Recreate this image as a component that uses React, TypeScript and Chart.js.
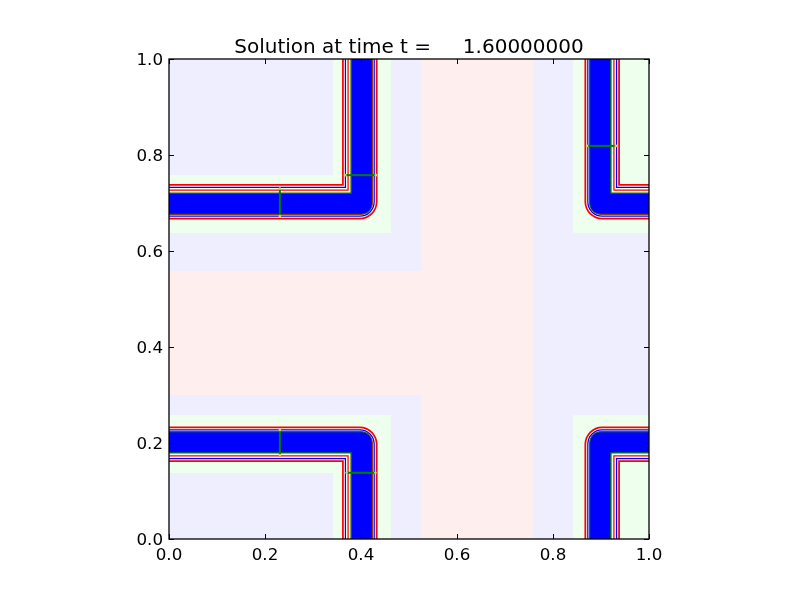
import { useEffect, useRef } from "react";
import { Chart, registerables } from "chart.js";

Chart.register(...registerables);

// ---- text ----
const titleLabel = "Solution at time t =";
const timeLabel = "    1.60000000";
const xTicks = [0, 0.2, 0.4, 0.6, 0.8, 1.0];
const yTicks = [0, 0.2, 0.4, 0.6, 0.8, 1.0];

// ---- AMR patches (level 1, 2, 3) ----
const patchLevel = [1, 2, 2, 3, 3, 3, 3, 3, 3];
const patchX0 = [0, 0.525, 0, 0, 0.342, 0.842, 0, 0.342, 0.842];
const patchX1 = [1, 0.758, 0.525, 0.4625, 0.4625, 1, 0.4625, 0.4625, 1];
const patchY0 = [0, 0, 0.3, 0.6375, 0.6375, 0.6375, 0.1375, 0, 0];
const patchY1 = [1, 1, 0.558, 0.758, 1, 1, 0.258, 0.258, 0.258];

// ---- square front in the periodic domain (corner path, closed with overlap) ----
const frontX = [-0.1, 0.4, 0.4, -0.1, -0.1, 0.4];
const frontY = [0.7, 0.7, 1.2, 1.2, 0.7, 0.7];
const periodShiftX = [0, 0, 1, 1];
const periodShiftY = [0, -1, 0, -1];

// ---- short green grid-edge marks across the front ----
const markX0 = [0.231, 0.367, 0.871, 0.231, 0.37];
const markX1 = [0.231, 0.431, 0.931, 0.231, 0.43];
const markY0 = [0.673, 0.758, 0.819, 0.175, 0.138];
const markY1 = [0.73, 0.758, 0.819, 0.227, 0.138];

// ---- styles ----
const levelColors: Record<number, string> = { 1: "#eeeeff", 2: "#ffeeee", 3: "#eeffee" };
const gapColor = "#f6fff6";
// stacked strokes: width in px, shift in px (negative = toward inside of the square)
const contourStyles = [
  { color: "#ff0000", width: 35.5, shift: -1.2 },
  { color: gapColor, width: 32, shift: -1.2 },
  { color: "#0000ff", width: 30, shift: -1.2 },
  { color: gapColor, width: 27.5, shift: -1.2 },
  { color: "#ff0000", width: 25.5, shift: -0.8 },
  { color: gapColor, width: 23, shift: -0.8 },
  { color: "#008000", width: 22, shift: 0.4 },
  { color: "#0000ff", width: 20, shift: 0.8 },
];
const PX_PER_UNIT = 480;

const FONT = "'DejaVu Sans', 'Liberation Sans', sans-serif";

export default function App() {
  const ref = useRef<HTMLCanvasElement>(null);

  useEffect(() => {
    const canvas = ref.current;
    if (!canvas) return;

    const cx = (Math.min(...frontX) + Math.max(...frontX)) / 2;
    const cy = (Math.min(...frontY) + Math.max(...frontY)) / 2;

    const drawOrder: any[] = [];
    contourStyles.forEach((st) => {
      const e = st.shift / PX_PER_UNIT;
      periodShiftX.forEach((sx, k) => {
        const sy = periodShiftY[k];
        const pts = frontX.map((x, i) => {
          const y = frontY[i];
          return {
            x: x + (x < cx ? -e : e) + sx,
            y: y + (y < cy ? -e : e) + sy,
          };
        });
        drawOrder.push({
          data: pts,
          showLine: true,
          borderColor: st.color,
          borderWidth: st.width,
          borderJoinStyle: "round",
          borderCapStyle: "butt",
          pointRadius: 0,
          tension: 0,
          fill: false,
          clip: 0,
        });
      });
    });
    markX0.forEach((x0, i) => {
      drawOrder.push({
        data: [
          { x: x0, y: markY0[i] },
          { x: markX1[i], y: markY1[i] },
        ],
        showLine: true,
        borderColor: "#008000",
        borderWidth: 2,
        pointRadius: 1.3,
        pointBorderWidth: 0,
        pointBackgroundColor: "#d8d850",
        tension: 0,
        fill: false,
        clip: 0,
      });
    });
    // Chart.js draws the first dataset on top, so reverse
    const datasets = drawOrder.slice().reverse();

    const patchPlugin = {
      id: "patches",
      beforeDatasetsDraw(chart: any) {
        const { ctx, scales } = chart;
        const xs = scales.x;
        const ys = scales.y;
        ctx.save();
        patchLevel.forEach((lvl, i) => {
          const l = xs.getPixelForValue(patchX0[i]);
          const r = xs.getPixelForValue(patchX1[i]);
          const t = ys.getPixelForValue(patchY1[i]);
          const b = ys.getPixelForValue(patchY0[i]);
          ctx.fillStyle = levelColors[lvl];
          ctx.fillRect(l, t, r - l, b - t);
        });
        ctx.restore();
      },
    };

    const framePlugin = {
      id: "frame",
      afterDraw(chart: any) {
        const { ctx, scales } = chart;
        const xs = scales.x;
        const ys = scales.y;
        const left = xs.getPixelForValue(0);
        const right = xs.getPixelForValue(1);
        const top = ys.getPixelForValue(1);
        const bottom = ys.getPixelForValue(0);
        ctx.save();
        ctx.strokeStyle = "#000";
        ctx.lineWidth = 1;
        const tl = 5;
        ctx.beginPath();
        xTicks.forEach((v) => {
          const p = Math.round(xs.getPixelForValue(v)) + 0.5;
          ctx.moveTo(p, bottom);
          ctx.lineTo(p, bottom - tl);
          ctx.moveTo(p, top);
          ctx.lineTo(p, top + tl);
        });
        yTicks.forEach((v) => {
          const p = Math.round(ys.getPixelForValue(v)) + 0.5;
          ctx.moveTo(left, p);
          ctx.lineTo(left + tl, p);
          ctx.moveTo(right, p);
          ctx.lineTo(right - tl, p);
        });
        ctx.stroke();
        ctx.lineWidth = 1.3;
        ctx.strokeRect(left, top, right - left, bottom - top);
        ctx.fillStyle = "#000";
        ctx.font = `20px ${FONT}`;
        ctx.textAlign = "center";
        ctx.textBaseline = "alphabetic";
        ctx.fillText(titleLabel + " " + timeLabel, (left + right) / 2, 53);
        ctx.restore();
      },
    };

    const tickFont = { family: FONT, size: 16.7 };

    const chart = new Chart(canvas, {
      type: "scatter",
      data: { datasets },
      options: {
        responsive: false,
        devicePixelRatio: 1,
        animation: false,
        events: [],
        layout: { padding: { left: 0, top: 59, right: 151, bottom: 0 } },
        plugins: {
          legend: { display: false },
          tooltip: { enabled: false },
          title: { display: false },
        },
        scales: {
          x: {
            type: "linear",
            min: 0,
            max: 1,
            grid: { display: false, drawTicks: false },
            border: { display: false },
            ticks: {
              color: "#000",
              font: tickFont,
              padding: 6.5,
              maxRotation: 0,
              autoSkip: false,
              callback: (v: any) => Number(v).toFixed(1),
            },
            afterBuildTicks: (s: any) => {
              s.ticks = xTicks.map((v) => ({ value: v }));
            },
            afterFit: (s: any) => {
              s.height = 61;
            },
          },
          y: {
            type: "linear",
            min: 0,
            max: 1,
            grid: { display: false, drawTicks: false },
            border: { display: false },
            ticks: {
              color: "#000",
              font: tickFont,
              padding: 6,
              labelOffset: 1.5,
              autoSkip: false,
              callback: (v: any) => Number(v).toFixed(1),
            },
            afterBuildTicks: (s: any) => {
              s.ticks = yTicks.map((v) => ({ value: v }));
            },
            afterFit: (s: any) => {
              s.width = 169;
            },
          },
        },
      } as any,
      plugins: [patchPlugin, framePlugin],
    });

    return () => chart.destroy();
  }, []);

  return (
    <div style={{ position: "absolute", left: 0, top: 0, width: 800, height: 600, background: "#fff" }}>
      <canvas ref={ref} width={800} height={600} style={{ display: "block", width: 800, height: 600 }} />
    </div>
  );
}
